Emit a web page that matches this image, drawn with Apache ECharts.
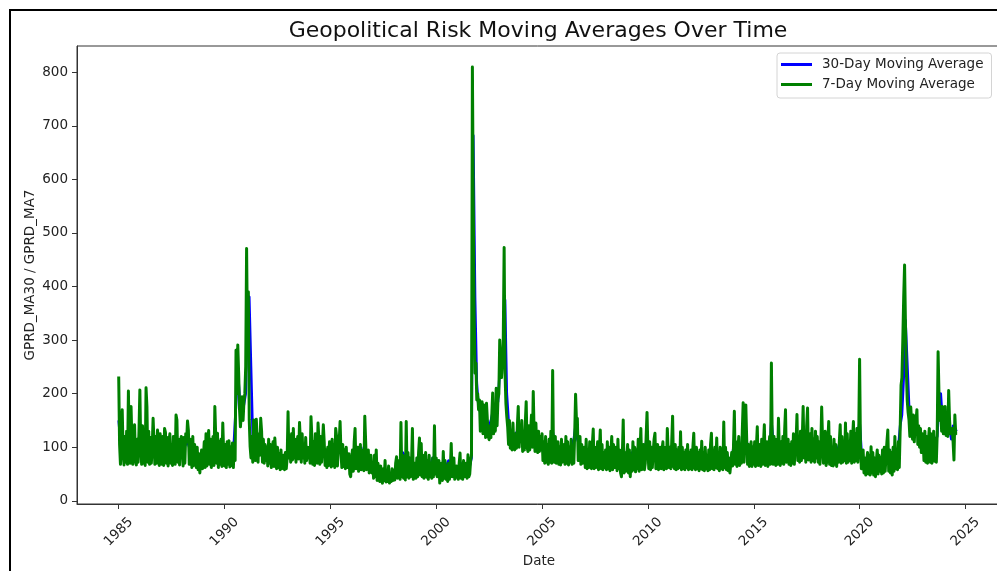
<!DOCTYPE html>
<html>
<head>
<meta charset="utf-8">
<title>Geopolitical Risk Moving Averages Over Time</title>
<script src="https://cdn.jsdelivr.net/npm/echarts@6/dist/echarts.min.js"></script>
<style>
  html, body { margin: 0; padding: 0; background: #ffffff; }
  #chart { width: 997px; height: 571px; }
</style>
</head>
<body>
<div id="chart"></div>
<script>
// 7-day moving average of the daily GPR index, sampled twice a month from Jan 1985 (one row per year)
const ma7Start = 1985;
const ma7PerYear = 24;
const ma7 = [
  232, 105, 68, 125, 170, 90, 67, 120, 72, 130, 68, 205, 95, 70, 176, 110, 68, 125, 142, 75, 67, 115, 72, 130,
  207, 100, 68, 140, 70, 125, 66, 211, 176, 72, 130, 68, 118, 70, 100, 154, 151, 68, 120, 70, 132, 110, 66, 125,
  100, 68, 120, 66, 135, 128, 70, 118, 65, 110, 125, 70, 105, 66, 120, 100, 68, 160, 151, 72, 115, 67, 110, 120,
  105, 65, 118, 70, 125, 110, 149, 132, 68, 115, 100, 62, 120, 66, 105, 92, 62, 100, 58, 88, 52, 75, 95, 60,
  80, 110, 62, 125, 65, 118, 131, 68, 115, 62, 105, 120, 66, 176, 120, 70, 126, 62, 110, 68, 115, 64, 145, 90,
  65, 105, 62, 110, 68, 112, 63, 100, 66, 108, 62, 105, 75, 281, 200, 291, 238, 170, 138, 160, 194, 150, 185, 200,
  250, 471, 300, 390, 151, 101, 80, 120, 72, 151, 110, 75, 152, 118, 72, 125, 85, 154, 130, 72, 115, 70, 105, 75,
  100, 65, 115, 70, 105, 62, 95, 110, 64, 117, 90, 60, 100, 62, 88, 58, 95, 60, 58, 85, 58, 90, 60, 80,
  166, 80, 110, 72, 125, 76, 135, 80, 115, 72, 105, 120, 78, 146, 110, 72, 125, 80, 105, 70, 118, 75, 100, 80,
  100, 70, 157, 120, 68, 110, 66, 125, 100, 70, 145, 115, 68, 120, 72, 105, 142, 110, 66, 95, 62, 100, 66, 110,
  90, 63, 115, 66, 105, 62, 135, 120, 65, 100, 110, 148, 90, 62, 105, 64, 95, 60, 100, 62, 62, 88, 50, 45,
  75, 95, 55, 110, 135, 60, 70, 100, 55, 90, 105, 58, 60, 95, 56, 158, 110, 58, 65, 95, 52, 55, 85, 52,
  70, 42, 85, 45, 95, 38, 70, 40, 36, 65, 40, 33, 60, 38, 75, 35, 55, 36, 65, 33, 50, 36, 60, 38,
  55, 39, 70, 82, 42, 50, 75, 40, 146, 45, 85, 42, 70, 39, 148, 45, 90, 42, 80, 45, 70, 135, 40, 60,
  70, 42, 80, 45, 90, 117, 48, 107, 45, 85, 42, 70, 90, 44, 75, 40, 85, 45, 70, 42, 80, 45, 140, 50,
  80, 45, 50, 75, 33, 55, 70, 38, 92, 42, 75, 40, 65, 36, 70, 40, 60, 107, 45, 50, 80, 40, 45, 65,
  60, 40, 70, 89, 42, 65, 40, 75, 45, 50, 70, 42, 86, 45, 50, 75, 85, 810, 560, 343, 238, 257, 188, 200,
  170, 188, 130, 157, 185, 125, 179, 165, 118, 182, 150, 120, 114, 140, 118, 160, 201, 125, 175, 130, 210, 140, 190, 200,
  300, 238, 230, 260, 300, 473, 238, 182, 157, 138, 105, 150, 98, 130, 95, 145, 100, 95, 125, 98, 140, 176, 100, 135,
  110, 150, 92, 130, 95, 145, 185, 100, 92, 140, 95, 130, 160, 100, 204, 125, 92, 145, 100, 90, 130, 92, 120, 95,
  125, 75, 110, 70, 120, 72, 105, 68, 115, 72, 130, 70, 243, 80, 72, 120, 70, 75, 110, 68, 100, 67, 115, 72,
  80, 105, 68, 120, 70, 110, 67, 100, 72, 115, 68, 100, 70, 125, 199, 150, 154, 75, 90, 120, 68, 105, 70, 75,
  100, 62, 115, 60, 95, 62, 110, 65, 60, 105, 134, 60, 100, 62, 85, 110, 58, 95, 132, 60, 105, 58, 90, 62,
  95, 58, 110, 60, 100, 56, 90, 120, 58, 105, 62, 60, 100, 56, 115, 60, 95, 52, 45, 85, 151, 52, 90, 55,
  80, 105, 52, 95, 45, 85, 55, 110, 58, 100, 54, 95, 60, 115, 55, 90, 135, 58, 75, 105, 58, 70, 120, 165,
  95, 60, 110, 58, 100, 62, 90, 115, 126, 60, 70, 105, 58, 75, 100, 60, 95, 110, 58, 70, 100, 60, 135, 90,
  62, 100, 60, 110, 158, 65, 60, 105, 58, 95, 60, 100, 62, 129, 58, 100, 60, 90, 58, 95, 62, 105, 58, 90,
  60, 95, 58, 100, 126, 62, 58, 100, 60, 90, 56, 95, 60, 111, 58, 90, 56, 100, 60, 85, 56, 95, 58, 105,
  126, 60, 95, 58, 100, 62, 117, 60, 90, 56, 100, 60, 95, 58, 147, 62, 100, 58, 90, 56, 80, 52, 70, 90,
  65, 100, 167, 68, 110, 64, 95, 120, 66, 105, 70, 130, 183, 72, 140, 179, 115, 68, 105, 64, 95, 110, 64, 100,
  68, 110, 64, 100, 138, 66, 70, 105, 64, 115, 68, 70, 142, 66, 85, 110, 64, 95, 120, 68, 257, 110, 68, 120,
  95, 66, 115, 68, 154, 100, 66, 110, 70, 120, 68, 130, 170, 72, 80, 115, 68, 105, 66, 110, 70, 125, 68, 100,
  110, 161, 75, 120, 72, 130, 75, 115, 176, 80, 125, 72, 140, 173, 76, 90, 125, 72, 135, 75, 115, 72, 130, 80,
  120, 72, 110, 68, 100, 175, 115, 70, 105, 130, 66, 75, 110, 148, 68, 120, 66, 100, 65, 115, 68, 105, 64, 95,
  72, 110, 142, 70, 120, 72, 105, 75, 145, 70, 125, 72, 110, 75, 130, 70, 115, 148, 72, 125, 75, 135, 72, 120,
  264, 100, 60, 70, 95, 52, 80, 48, 75, 90, 50, 85, 48, 101, 52, 90, 48, 80, 45, 75, 95, 50, 85, 55,
  80, 50, 95, 52, 100, 55, 85, 110, 132, 55, 95, 52, 90, 48, 100, 55, 120, 60, 95, 58, 110, 62, 132, 216,
  230, 300, 380, 440, 330, 244, 188, 165, 151, 120, 175, 173, 115, 160, 110, 145, 150, 170, 105, 140, 100, 135, 90, 125,
  115, 75, 130, 72, 120, 70, 110, 135, 72, 125, 70, 105, 130, 74, 115, 72, 125, 278, 200, 150, 176, 130, 176, 125,
  140, 176, 122, 155, 120, 206, 150, 125, 126, 135, 110, 76, 160, 125, 126
];

// 30-day moving average, sampled monthly from Jan 1985 (one row per year)
const ma30Start = 1985;
const ma30PerYear = 12;
const ma30 = [
  150, 110, 105, 115, 120, 110, 115, 100, 105, 100, 100, 105,
  120, 115, 110, 125, 115, 100, 105, 100, 110, 100, 100, 100,
  100, 95, 105, 100, 100, 95, 100, 95, 115, 105, 100, 100,
  95, 100, 105, 110, 100, 95, 95, 90, 85, 85, 70, 80,
  90, 95, 95, 100, 95, 95, 110, 105, 95, 95, 100, 105,
  90, 95, 90, 95, 95, 90, 90, 210, 220, 170, 165, 180,
  200, 360, 381, 250, 120, 110, 110, 115, 110, 100, 95, 95,
  95, 90, 85, 90, 85, 90, 85, 80, 75, 75, 75, 70,
  110, 100, 105, 105, 100, 100, 105, 110, 100, 95, 95, 95,
  95, 100, 110, 100, 105, 100, 105, 110, 110, 90, 85, 90,
  85, 90, 90, 100, 100, 105, 100, 90, 90, 85, 75, 60,
  80, 85, 100, 90, 85, 85, 80, 100, 95, 80, 75, 70,
  65, 70, 65, 60, 55, 55, 55, 55, 50, 50, 50, 50,
  55, 60, 65, 70, 80, 90, 85, 80, 70, 65, 75, 70,
  65, 70, 80, 85, 75, 70, 70, 70, 65, 70, 80, 75,
  65, 60, 55, 65, 65, 60, 60, 75, 70, 65, 60, 60,
  60, 65, 70, 65, 60, 65, 65, 65, 80, 682, 380, 220,
  175, 165, 160, 165, 160, 145, 140, 150, 165, 170, 175, 185,
  240, 250, 290, 375, 200, 150, 130, 125, 120, 120, 130, 130,
  120, 125, 120, 135, 125, 130, 140, 130, 120, 115, 110, 110,
  105, 100, 100, 100, 100, 110, 130, 110, 100, 95, 95, 95,
  95, 100, 95, 95, 95, 95, 115, 140, 115, 105, 100, 90,
  90, 95, 90, 90, 100, 95, 95, 95, 90, 100, 90, 85,
  85, 90, 85, 95, 90, 85, 90, 85, 80, 70, 95, 80,
  85, 80, 75, 90, 90, 85, 90, 95, 95, 90, 85, 110,
  90, 95, 85, 90, 95, 90, 85, 85, 90, 85, 90, 100,
  90, 95, 105, 90, 90, 85, 95, 90, 80, 80, 85, 85,
  80, 90, 95, 85, 85, 85, 85, 85, 80, 80, 80, 85,
  95, 85, 85, 90, 85, 85, 90, 95, 90, 85, 70, 75,
  85, 115, 100, 95, 95, 95, 130, 135, 110, 95, 90, 90,
  95, 90, 105, 95, 90, 95, 105, 95, 100, 95, 150, 110,
  95, 100, 115, 100, 100, 100, 120, 105, 100, 95, 100, 100,
  110, 115, 110, 110, 125, 115, 125, 115, 110, 110, 110, 115,
  110, 100, 105, 115, 100, 105, 110, 110, 100, 100, 95, 90,
  100, 110, 105, 110, 105, 110, 105, 105, 115, 115, 115, 120,
  148, 95, 80, 75, 75, 70, 75, 80, 70, 75, 80, 80,
  75, 80, 80, 80, 90, 95, 80, 85, 80, 90, 100, 140,
  160, 230, 337, 260, 180, 155, 150, 150, 145, 135, 125, 115,
  110, 110, 115, 110, 110, 115, 110, 115, 120, 180, 200, 150,
  140, 150, 160, 135, 115, 140, 135, 130
];

// Tick positions
const yearTicks = [1985, 1990, 1995, 2000, 2005, 2010, 2015, 2020, 2025];
const valueTicks = [0, 100, 200, 300, 400, 500, 600, 700, 800];

const seriesNames = ['30-Day Moving Average', '7-Day Moving Average'];

const toPoints = (values, start, perYear) => values.map((v, i) => [start + i / perYear, v]);

const FONT = '"DejaVu Sans", "Noto Sans", sans-serif';
const TEXT = '#222222';
const SPINE = '#333333';
const TICK_FONT = 13.5;

const chart = echarts.init(document.getElementById('chart'), null, { renderer: 'canvas' });

chart.setOption({
  animation: false,
  backgroundColor: '#ffffff',
  title: {
    text: 'Geopolitical Risk Moving Averages Over Time',
    left: 538,
    top: 20,
    textAlign: 'center',
    padding: 0,
    textStyle: { fontFamily: FONT, fontSize: 22, fontWeight: 'normal', color: '#111111' }
  },
  legend: {
    orient: 'vertical',
    left: 777,
    top: 53,
    padding: [4, 8, 6, 4],
    itemGap: 5,
    itemWidth: 31,
    itemHeight: 3,
    backgroundColor: 'rgba(255,255,255,0.85)',
    borderColor: '#d4d4d4',
    borderWidth: 1,
    borderRadius: 3,
    textStyle: { fontFamily: FONT, fontSize: TICK_FONT, color: TEXT, lineHeight: 15, padding: [0, 0, 0, 5] },
    data: seriesNames.map(n => ({ name: n, icon: 'rect' }))
  },
  grid: {
    left: 77,
    top: 46,
    width: 924,
    height: 458,
    outerBoundsMode: 'none',
    containLabel: false,
    show: true,
    borderColor: SPINE,
    borderWidth: 1,
    backgroundColor: 'transparent'
  },
  xAxis: {
    type: 'value',
    min: 1983.03,
    max: 2026.68,
    name: 'Date',
    nameLocation: 'middle',
    nameGap: 50,
    nameMoveOverlap: false,
    nameTextStyle: { fontFamily: FONT, fontSize: TICK_FONT, color: TEXT },
    axisLine: { show: true, onZero: false, lineStyle: { color: SPINE, width: 1 } },
    axisTick: { show: true, length: 5, customValues: yearTicks, lineStyle: { color: SPINE } },
    axisLabel: {
      customValues: yearTicks,
      formatter: v => String(v),
      rotate: 45,
      align: 'center',
      verticalAlign: 'middle',
      margin: 28,
      fontFamily: FONT,
      fontSize: TICK_FONT,
      color: TEXT
    },
    splitLine: { show: false }
  },
  yAxis: {
    type: 'value',
    min: -6,
    max: 849,
    name: 'GPRD_MA30 / GPRD_MA7',
    nameLocation: 'middle',
    nameGap: 40,
    nameMoveOverlap: false,
    nameTextStyle: { fontFamily: FONT, fontSize: TICK_FONT, color: TEXT },
    axisLine: { show: true, onZero: false, lineStyle: { color: SPINE, width: 1 } },
    axisTick: { show: true, length: 5, customValues: valueTicks, lineStyle: { color: SPINE } },
    axisLabel: {
      customValues: valueTicks,
      formatter: v => String(v),
      margin: 9,
      fontFamily: FONT,
      fontSize: TICK_FONT,
      color: TEXT
    },
    splitLine: { show: false }
  },
  graphic: [
    {
      type: 'rect',
      silent: true,
      z: 100,
      shape: { x: 10, y: 10, width: 1100, height: 700 },
      style: { fill: 'none', stroke: '#000000', lineWidth: 2 }
    }
  ],
  series: [
    {
      name: seriesNames[0],
      type: 'line',
      data: toPoints(ma30, ma30Start, ma30PerYear),
      showSymbol: false,
      symbol: 'none',
      sampling: 'none',
      color: '#0000ff',
      lineStyle: { width: 2.6, color: '#0000ff', join: 'round' },
      z: 2
    },
    {
      name: seriesNames[1],
      type: 'line',
      data: toPoints(ma7, ma7Start, ma7PerYear),
      showSymbol: false,
      symbol: 'none',
      sampling: 'none',
      color: '#008000',
      lineStyle: { width: 3, color: '#008000', join: 'round' },
      z: 3
    }
  ]
});
</script>
</body>
</html>
